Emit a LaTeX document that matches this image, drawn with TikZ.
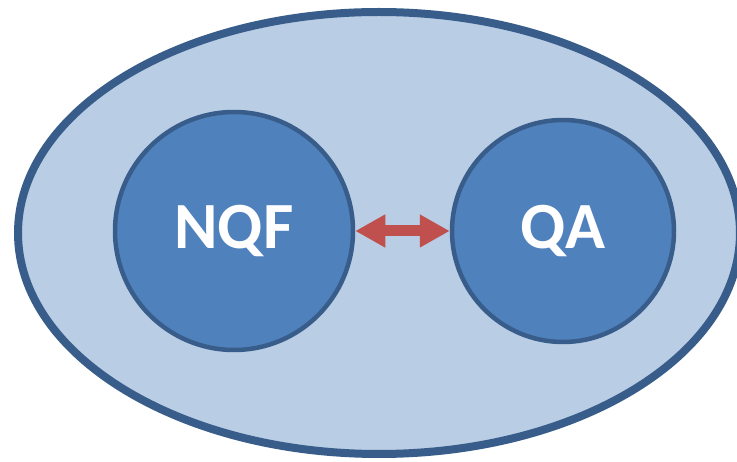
\documentclass[tikz,border=0pt]{standalone}
\usepackage{fontspec}
\setmainfont{Carlito}
\usetikzlibrary{ % tikz packages
    positioning,shapes.geometric,
    arrows.meta
}
\definecolor{paleblue}{HTML}{B9CDE5}
\definecolor{midblue}{HTML}{4F81BD}
\definecolor{edgeblue}{HTML}{385D8A}
\definecolor{arrowred}{HTML}{C0504D}
\tikzset{unit/.style={
    circle,
    draw=edgeblue,
    fill=midblue,
    line width=4.5pt,
    text=white,
    font=\fontsize{66}{70}\selectfont\bfseries
}}
\tikzset{>={Triangle[length=30pt,width=31pt]}}

\begin{document}
\begin{tikzpicture}[node distance=329pt,on grid]
        \useasboundingbox (0,0) rectangle (737pt,461pt);
        \clip (0,0) rectangle (737pt,461pt);
        \node[ellipse, draw=edgeblue, fill=paleblue, line width=8pt,
              minimum width=722pt, minimum height=442pt] (frame) at (379pt,228pt) {};

        \node[unit, minimum size=238pt] (nqf) at (234pt,230pt) {NQF};
        \node[unit, minimum size=222pt] (qa) [right=of nqf] {QA};

        \draw[<->, draw=arrowred, line width=11pt] (nqf) -- (qa);
    \end{tikzpicture}
\end{document}
